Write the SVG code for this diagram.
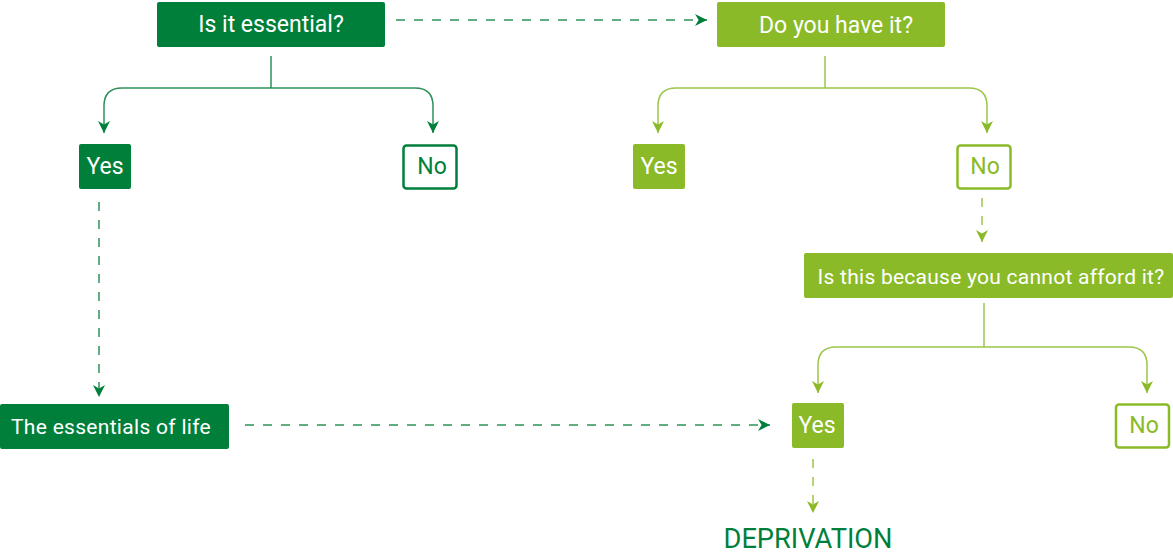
<svg xmlns="http://www.w3.org/2000/svg" width="1173" height="553" viewBox="0 0 1173 553">
<style>
.dk{fill:#007f3b}
.lt{fill:#8aba27}
.dko{fill:#fff;stroke:#007f3b;stroke-width:2.5}
.lto{fill:#fff;stroke:#8aba27;stroke-width:2.5}
text{font-family:Roboto,"Liberation Sans",sans-serif;font-size:23px;text-anchor:middle}
.w{fill:#fff}
.tdk{fill:#007f3b}
.tlt{fill:#8aba27}
.cdk{fill:none;stroke:#2e9158;stroke-width:1.5}
.clt{fill:none;stroke:#9cc64a;stroke-width:1.5}
.dash{stroke-dasharray:9 9}
</style>
<defs>
<marker id="ad" markerWidth="12" markerHeight="12" refX="10" refY="5" orient="auto" markerUnits="userSpaceOnUse" viewBox="0 0 10 10"><path d="M0,0 L10,5 L0,10 L3,5 Z" fill="#007f3b"/></marker>
<marker id="al" markerWidth="12" markerHeight="12" refX="10" refY="5" orient="auto" markerUnits="userSpaceOnUse" viewBox="0 0 10 10"><path d="M0,0 L10,5 L0,10 L3,5 Z" fill="#8aba27"/></marker>
</defs>
<g id="connectors">
<path class="cdk dash" d="M396,20 H707" marker-end="url(#ad)"/>
<path class="cdk" d="M271,56 V88"/>
<path class="cdk" d="M271,88 H122 Q104,88 104,106 V133" marker-end="url(#ad)"/>
<path class="cdk" d="M271,88 H415 Q433,88 433,106 V133" marker-end="url(#ad)"/>
<path class="clt" d="M825,56 V88"/>
<path class="clt" d="M825,88 H676 Q658,88 658,106 V133" marker-end="url(#al)"/>
<path class="clt" d="M825,88 H969 Q987,88 987,106 V133" marker-end="url(#al)"/>
<path class="clt dash" d="M982,198 V242" marker-end="url(#al)"/>
<path class="clt" d="M984,303 V347"/>
<path class="clt" d="M984,347 H836 Q818,347 818,365 V393" marker-end="url(#al)"/>
<path class="clt" d="M984,347 H1129 Q1147,347 1147,365 V393" marker-end="url(#al)"/>
<path class="cdk dash" d="M99,202 V397" marker-end="url(#ad)"/>
<path class="cdk dash" d="M245,425 H770" marker-end="url(#ad)"/>
<path class="clt dash" d="M813,459 V513" marker-end="url(#al)"/>
</g>
<g id="q1"><rect class="dk" x="157" y="2" width="228" height="45" rx="2"/><text class="w" x="271" y="32">Is it essential?</text></g>
<g id="q2"><rect class="lt" x="717" y="2" width="228" height="45" rx="2"/><text class="w" x="836" y="33">Do you have it?</text></g>
<g id="yes1"><rect class="dk" x="79" y="144" width="52" height="45" rx="2"/><text class="w" x="105" y="174">Yes</text></g>
<g id="no1"><rect class="dko" x="403.5" y="145.5" width="53" height="43" rx="3"/><text class="tdk" x="432" y="174">No</text></g>
<g id="yes2"><rect class="lt" x="633" y="144" width="52" height="45" rx="2"/><text class="w" x="659" y="174">Yes</text></g>
<g id="no2"><rect class="lto" x="957.5" y="145.5" width="53" height="43" rx="3"/><text class="tlt" x="985" y="174">No</text></g>
<g id="q3"><rect class="lt" x="804" y="253" width="369" height="45" rx="2"/><text class="w" x="991" y="284" style="font-size:21px" letter-spacing="0.25">Is this because you cannot afford it?</text></g>
<g id="yes3"><rect class="lt" x="792" y="403" width="52" height="45" rx="2"/><text class="w" x="817" y="433">Yes</text></g>
<g id="no3"><rect class="lto" x="1116" y="404.5" width="53" height="43" rx="3"/><text class="tlt" x="1144" y="433">No</text></g>
<g id="essentials"><rect class="dk" x="0" y="404" width="229" height="45" rx="2"/><text class="w" x="111" y="434" style="font-size:21px" letter-spacing="0.3">The essentials of life</text></g>
<g id="deprivation"><text class="tdk" x="808" y="548" style="font-size:27px" textLength="169" lengthAdjust="spacingAndGlyphs">DEPRIVATION</text></g>
</svg>
